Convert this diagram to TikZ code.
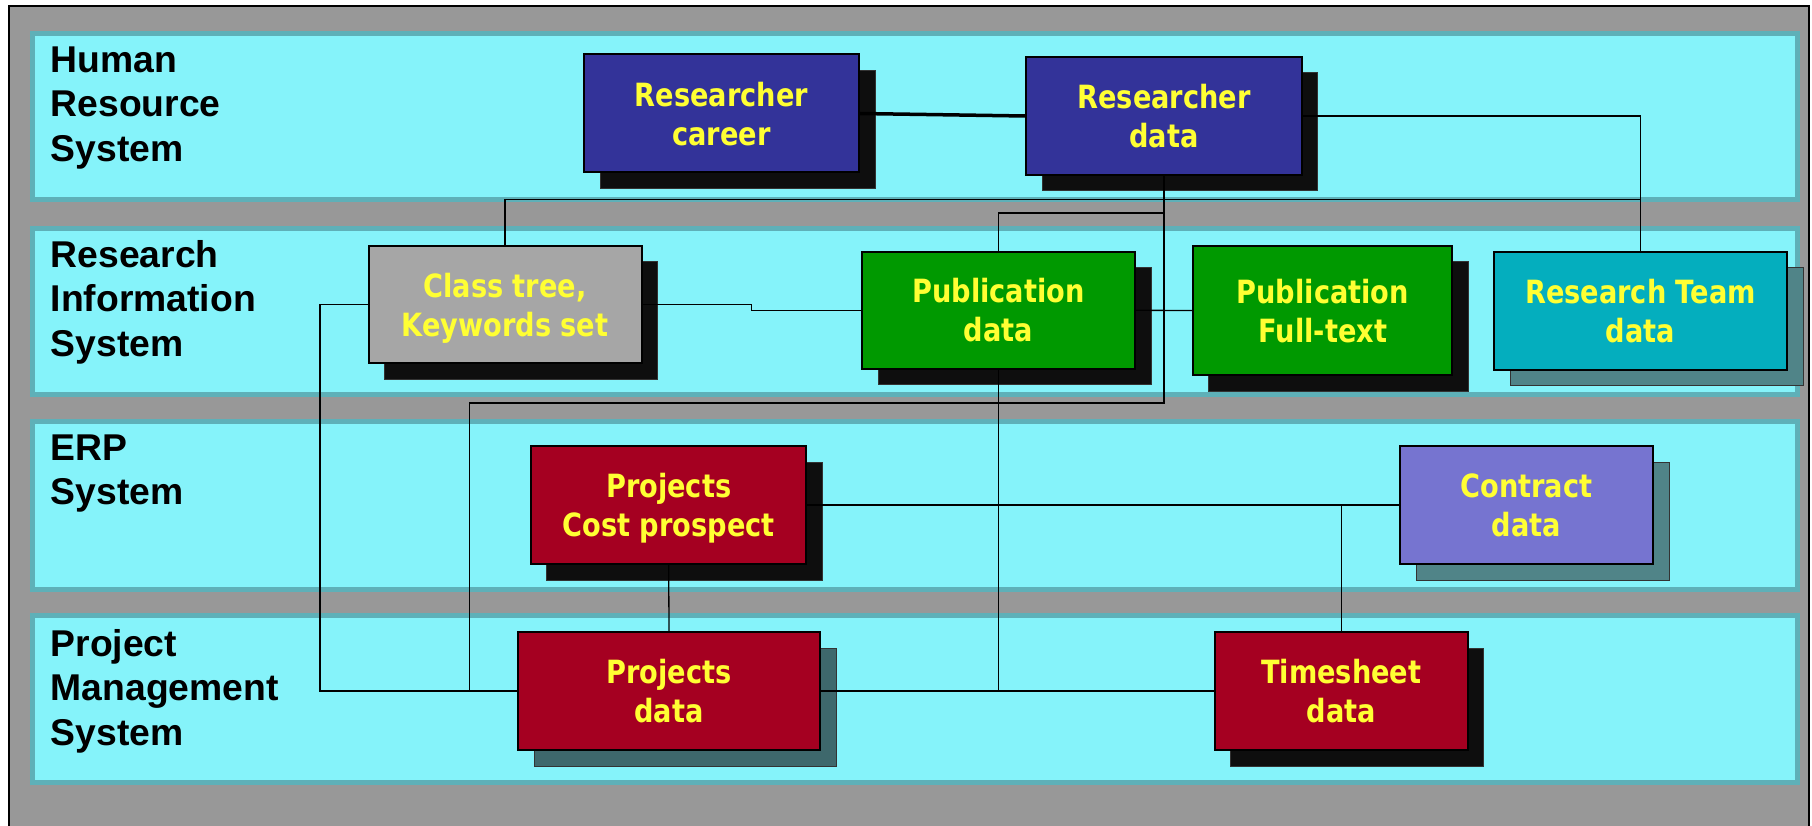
\documentclass[tikz,border=0pt]{standalone}
\usepackage{fontspec}
\setmainfont{Liberation Sans}
\newfontfamily\boxfont[FakeStretch=0.85]{DejaVu Sans}
\usetikzlibrary{shadows,calc}
\definecolor{bggray}{RGB}{152,152,152}
\definecolor{bandfill}{RGB}{133,243,250}
\definecolor{bandline}{RGB}{94,176,184}
\definecolor{txtyellow}{RGB}{255,255,51}
\definecolor{cblue}{RGB}{51,51,153}
\definecolor{cgray}{RGB}{166,166,166}
\definecolor{cgreen}{RGB}{0,153,0}
\definecolor{cteal}{RGB}{4,174,190}
\definecolor{cred}{RGB}{165,0,33}
\definecolor{cviolet}{RGB}{118,116,208}
\definecolor{shblack}{RGB}{14,14,14}
\definecolor{shteal}{RGB}{80,132,136}
\definecolor{shdark}{RGB}{62,104,108}
\tikzset{
  band/.style={fill=bandfill, draw=bandline, line width=5pt},
  lbl/.style={anchor=north west, inner sep=0pt, align=left,
    font=\fontsize{37.3}{44.5}\selectfont\bfseries},
  databox/.style={draw=black, line width=2pt, inner sep=0pt, align=center,
    text=txtyellow, font=\boxfont\fontsize{32}{39}\selectfont\bfseries,
    text depth=0pt, minimum height=118pt},
  shK/.style={drop shadow={shadow xshift=16pt, shadow yshift=-16pt,
    fill=shblack, opacity=1, draw=black!80, line width=1pt}},
  shT/.style={drop shadow={shadow xshift=16pt, shadow yshift=-16pt,
    fill=#1, opacity=1, draw=black!80, line width=1pt}},
  link/.style={draw=black, line width=1.3pt},
  thicklink/.style={draw=black, line width=3.5pt},
}
\begin{document}
\begin{tikzpicture}[x=1pt, y=-1pt]
\useasboundingbox (0,0) rectangle (1812,826);
\clip (0,0) rectangle (1812,826);
\fill[white] (0,0) rectangle (1812,826);
\draw[line width=2pt, fill=bggray] (8.6,5.7) rectangle (1809,845);

% system bands
\draw[band] (32.5,33.5) rectangle (1797.5,199.5);
\draw[band] (32.5,228.5) rectangle (1797.5,394);
\draw[band] (32.5,421.5) rectangle (1797.5,589);
\draw[band] (32.5,615.5) rectangle (1797.5,782.5);

\node[lbl] (lhr) at (50.5,46.5) {Human\\Resource\\System};
\node[lbl] (lri) at (50.5,240) {Research\\Information\\System};
\node[lbl] (lerp) at (50.5,434.3) {ERP\\System};
\node[lbl] (lpm) at (50.5,629) {Project\\Management\\System};

% data boxes
\node[databox, shK, fill=cblue, minimum width=275pt] (RC) at (721.5,113.5) {Researcher\\career};
\node[databox, shK, fill=cblue, minimum width=275.5pt] (RD) at (1164,116) {Researcher\\data};
\node[databox, shK, fill=cgray, minimum width=273pt, minimum height=117pt] (CT) at (505,304.5) {Class tree,\\Keywords set};
\node[databox, shK, fill=cgreen, minimum width=273pt, minimum height=117pt] (PD) at (998.5,310.3) {Publication\\data};
\node[databox, shK, fill=cgreen, minimum width=259.5pt, minimum height=129pt] (PF) at (1322.7,310.5) {Publication\\Full-text};
\node[databox, shT=shteal, fill=cteal, minimum width=293pt] (RT) at (1640.5,310.8) {Research Team\\data};
\node[databox, shK, fill=cred, minimum width=275.5pt] (PC) at (668.7,505) {Projects\\Cost prospect};
\node[databox, shT=shteal, fill=cviolet, minimum width=253pt] (CD) at (1526.5,505) {Contract\\data};
\node[databox, shT=shdark, fill=cred, minimum width=302pt] (PJ) at (669,691) {Projects\\data};
\node[databox, shK, fill=cred, minimum width=253pt] (TS) at (1341.3,691) {Timesheet\\data};

% junction points
\coordinate (j1) at (1640.5,199.5);
\coordinate (j2) at (1164,213);
\coordinate (j4) at (469.5,403);
\coordinate (j6) at (320,500);

% connectors
\draw[thicklink] (RC.east) -- (RD.west);
\draw[link] (RD.east) -| (RT.north);
\draw[link] (CT.north) |- (j1);
\draw[link] (RD.south) -- (j2) -| (PD.north);
\draw[link] (RD.south) |- (j4) -- (j4 |- PJ.west);
\draw[link] (CT.west) -| (j6) |- (PJ.west);
\draw[link] (CT.east) -| ($(CT.east)!0.5!(PD.west)$) |- (PD.west);
\draw[link] (PD.east) -- (PF.west);
\draw[link] (PD.south) -- (PD.south |- PJ.east);
\draw[link] (PJ.east) -- (TS.west);
\draw[link] (PC.south) -- (PJ.north);
\draw[link] (PC.east) -- (CD.west);
\draw[link] (TS.north) -- (TS.north |- CD.west);
\end{tikzpicture}
\end{document}
